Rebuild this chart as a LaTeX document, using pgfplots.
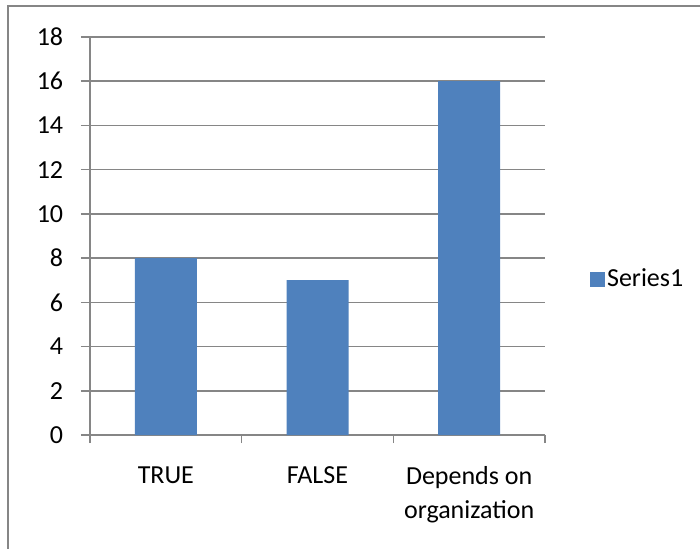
\documentclass[border=0pt]{standalone}
\usepackage{pgfplots}
\pgfplotsset{compat=1.18}
\usepackage{fontspec}
\setmainfont{Carlito}
\definecolor{barblue}{HTML}{4F81BD}
\definecolor{axgray}{HTML}{868686}
\begin{document}
\fontsize{26}{34}\selectfont
\begin{tikzpicture}
\useasboundingbox (0pt,0pt) rectangle (700pt,548pt);
\draw[axgray, line width=2pt] (7.5pt,-5pt) -- (7.5pt,541.5pt) -- (705pt,541.5pt);
\begin{axis}[
  at={(90pt,113pt)}, anchor=south west,
  scale only axis, width=455pt, height=398pt,
  xmin=0.5, xmax=3.5, ymin=0, ymax=18,
  ytick={0,2,...,18},
  xtick={1,2,3},
  xticklabels={TRUE,FALSE,Depends on\\organization},
  xticklabel style={align=center, font=\fontsize{26}{34}\selectfont, yshift=-14pt},
  yticklabel style={font=\fontsize{26}{34}\selectfont, xshift=-9pt},
  /pgf/number format/assume math mode=true,
  major x tick style={draw=none},
  extra x ticks={0.5,1.5,2.5,3.5},
  extra x tick labels={},
  extra x tick style={major tick length=8pt, tick align=outside, major x tick style={draw=axgray, line width=1.5pt}},
  tick align=outside,
  major tick length=9pt,
  major tick style={draw=axgray, line width=1.5pt},
  ymajorgrids,
  major grid style={draw=axgray, line width=1.5pt},
  axis x line*=bottom, axis y line*=left,
  axis line style={draw=axgray, line width=1.5pt, -},
  ybar, bar width=62pt,
  legend style={at={(1.092,0.39)}, anchor=west, draw=none, fill=none, font=\fontsize{26}{34}\selectfont},
  legend image code/.code={\fill[barblue] (-3pt,-7.5pt) rectangle (12pt,7.5pt);},
]
\addplot[fill=barblue, draw=none] coordinates {(1,8) (2,7) (3,16)};
\addlegendentry{Series1}
\end{axis}
\end{tikzpicture}
\end{document}
